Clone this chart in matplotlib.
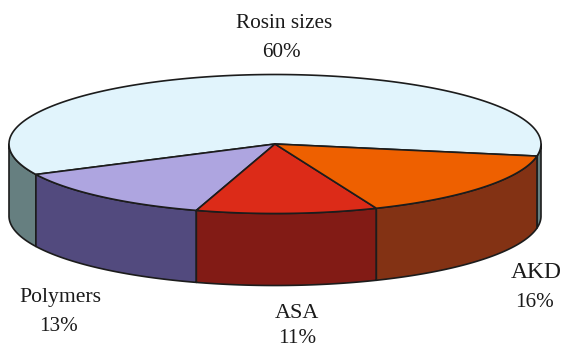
import numpy as np
import matplotlib
matplotlib.use("Agg")
from matplotlib import pyplot as plt

plt.rcParams["font.family"] = ["Liberation Serif", "DejaVu Serif"]

labels = ["Rosin sizes", "Polymers", "ASA", "AKD"]
shares = [60, 13, 11, 16]
top_colors = ["#E1F4FC", "#AEA5E0", "#DC2B18", "#EE6000"]
side_colors = ["#667F80", "#524A7E", "#821B15", "#833214"]
# baseline anchors of the name line and of the percent line
name_pos = [(284, 28), (60, 302), (297, 318), (536, 278)]
pct_pos = [(281, 57), (58, 331), (297, 343), (534, 307)]
name_size = [15.3, 15.6, 15.9, 17]
pct_size = 15.2

# pie geometry, in pixels
cx, cy = 275, 144
rx, ry = 266, 69.5
depth = 72
start = 350
edge = "#1c1c1c"


def rim(a, b):
    t = np.radians(np.linspace(a, b, 200))
    return cx + rx * np.cos(t), cy - ry * np.sin(t)


fig = plt.figure(figsize=(5.62, 3.48), dpi=100)
ax = fig.add_axes([0, 0, 1, 1])
ax.set_xlim(0, 562)
ax.set_ylim(348, 0)
ax.axis("off")

angles = start + np.cumsum([0] + shares) * 3.6

# walls first, only the front half of the rim (180-360 deg) can be seen
for i in range(len(shares)):
    for k in (-1, 0, 1):
        a = max(angles[i] + k * 360, 180)
        b = min(angles[i + 1] + k * 360, 360)
        if a >= b:
            continue
        x, y = rim(a, b)
        ax.fill(np.r_[x, x[::-1]], np.r_[y, y[::-1] + depth],
                facecolor=side_colors[i], edgecolor=edge, lw=1.2, joinstyle="round")

# top of the pie
for i in range(len(shares)):
    x, y = rim(angles[i], angles[i + 1])
    ax.fill(np.r_[cx, x], np.r_[cy, y],
            facecolor=top_colors[i], edgecolor=edge, lw=1.2, joinstyle="round")

for i, name in enumerate(labels):
    ax.text(name_pos[i][0], name_pos[i][1], name, ha="center", va="baseline",
            fontsize=name_size[i], color="#1a1a1a")
    ax.text(pct_pos[i][0], pct_pos[i][1], f"{shares[i]}%", ha="center", va="baseline",
            fontsize=pct_size, color="#1a1a1a")

plt.savefig("out.png", dpi=100)
plt.close()
